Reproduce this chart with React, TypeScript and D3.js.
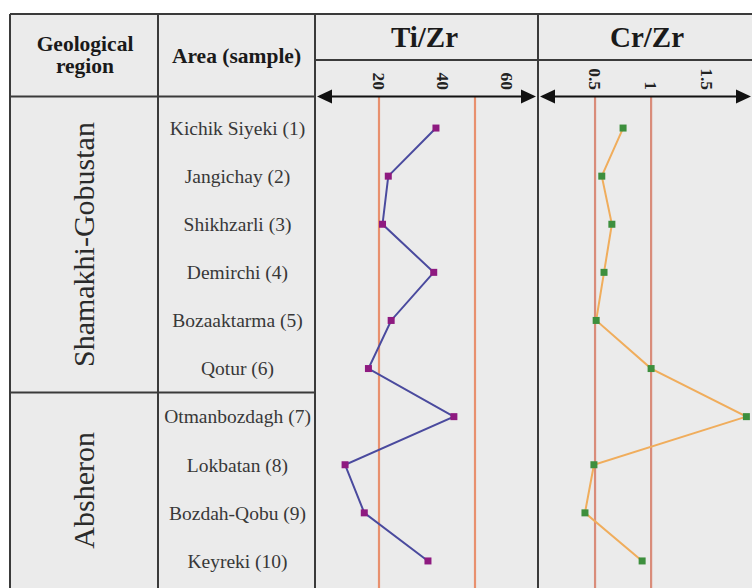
import * as d3 from 'd3'

// Rows of the table
const regions = ['Shamakhi-Gobustan', 'Absheron']
const regionCounts = [6, 4]
const samples = [
  'Kichik Siyeki (1)',
  'Jangichay (2)',
  'Shikhzarli (3)',
  'Demirchi (4)',
  'Bozaaktarma (5)',
  'Qotur (6)',
  'Otmanbozdagh (7)',
  'Lokbatan (8)',
  'Bozdah-Qobu (9)',
  'Keyreki (10)',
]

// Ratios
const tiZr = [37.8, 22.9, 21.1, 37.1, 23.8, 16.7, 43.4, 9.4, 15.4, 35.3]
const crZr = [0.75, 0.56, 0.65, 0.58, 0.51, 1.0, 1.85, 0.49, 0.41, 0.92]

const tiTicks = [20, 40, 60]
const tiRefs = [20, 50]
const crTicks = [0.5, 1, 1.5]
const crRefs = [0.5, 1]

const W = 752
const H = 588
const left = 10
const top = 14
const col1 = 158
const col2 = 315
const col3 = 538
const subY = 60
const axisY = 96.5
const bodyTop = 104
const bodyBottom = 585

const serif = '"Liberation Serif", "Times New Roman", serif'
const bg = '#ebebeb'
const border = '#3a3a3a'

function Arrow({ x, dir }: { x: number; dir: 1 | -1 }) {
  // dir = -1 points left, 1 points right; x is the tip
  const p = `${x},${axisY} ${x - dir * 15},${axisY - 7} ${x - dir * 15},${axisY + 7}`
  return <polygon points={p} fill="#111" />
}

function Panel({
  values,
  ticks,
  refs,
  x,
  lineColor,
  markColor,
  refColor,
  tipL,
  tipR,
}: {
  values: number[]
  ticks: number[]
  refs: number[]
  x: d3.ScaleLinear<number, number>
  lineColor: string
  markColor: string
  refColor: string
  tipL: number
  tipR: number
}) {
  const y = d3.scaleBand<string>().domain(samples).range([bodyTop, bodyBottom])
  const cy = (i: number) => (y(samples[i]) ?? 0) + y.bandwidth() / 2
  const line = d3
    .line<number>()
    .x((d) => x(d))
    .y((_, i) => cy(i))
  return (
    <g>
      {refs.map((r) => (
        <line
          key={r}
          x1={x(r)}
          x2={x(r)}
          y1={axisY}
          y2={H}
          stroke={refColor}
          strokeWidth={2.2}
        />
      ))}
      <path d={line(values) ?? ''} fill="none" stroke={lineColor} strokeWidth={2} />
      {values.map((v, i) => (
        <rect
          key={i}
          x={x(v) - 3.5}
          y={cy(i) - 3.5}
          width={7}
          height={7}
          fill={markColor}
        />
      ))}
      <line x1={tipL + 4} x2={tipR - 4} y1={axisY} y2={axisY} stroke="#111" strokeWidth={2} />
      <Arrow x={tipL} dir={-1} />
      <Arrow x={tipR} dir={1} />
      {ticks.map((t) => (
        <text
          key={t}
          transform={`translate(${x(t)},90) rotate(90)`}
          textAnchor="end"
          dy="0.35em"
          fontFamily={serif}
          fontWeight="bold"
          fontSize={17.5}
          fill="#222"
        >
          {String(t)}
        </text>
      ))}
    </g>
  )
}

export default function App() {
  const xTi = d3.scaleLinear().domain([0, 68.75]).range([col2, col3 - 3])
  const xCr = d3.scaleLinear().domain([0, 1.9]).range([col3 + 1, W])

  const y = d3.scaleBand<string>().domain(samples).range([bodyTop, bodyBottom])

  // region blocks
  let start = 0
  const blocks = regions.map((name, k) => {
    const s = start
    start += regionCounts[k]
    const y0 = k === 0 ? axisY : (y(samples[s]) ?? 0)
    const last = samples[s + regionCounts[k] - 1]
    const y1 = k === regions.length - 1 ? H : (y(last) ?? 0) + y.bandwidth()
    return { name, y0, y1 }
  })

  return (
    <div style={{ position: 'fixed', left: 0, top: 0 }}>
      <svg width={W} height={H} style={{ display: 'block', background: '#fff' }}>
        <rect x={left} y={top} width={W - left} height={H - top} fill={bg} />

        {/* header text */}
        <g fontFamily={serif} fontWeight="bold" fill="#1a1a1a" textAnchor="middle">
          <text x={(left + col1) / 2 + 1} y={51} fontSize={21.5}>
            Geological
          </text>
          <text x={(left + col1) / 2 + 1} y={73} fontSize={21.5}>
            region
          </text>
          <text x={(col1 + col2) / 2} y={63} fontSize={21.5}>
            Area (sample)
          </text>
          <text x={(col2 + col3) / 2 - 2} y={47} fontSize={29}>
            Ti/Zr
          </text>
          <text x={(col3 + W) / 2 + 2} y={47} fontSize={29}>
            Cr/Zr
          </text>
        </g>

        {/* sample names */}
        <g fontFamily={serif} fontSize={19.5} fill="#383838" textAnchor="middle">
          {samples.map((s) => (
            <text key={s} x={(col1 + col2) / 2 + 1} y={(y(s) ?? 0) + y.bandwidth() / 2} dy="0.35em">
              {s}
            </text>
          ))}
        </g>

        {/* region names */}
        {blocks.map((b) => (
          <text
            key={b.name}
            transform={`translate(${(left + col1) / 2 - 1},${(b.y0 + b.y1) / 2}) rotate(-90)`}
            textAnchor="middle"
            dy="0.35em"
            fontFamily={serif}
            fontSize={30}
            fill="#2a2a2a"
          >
            {b.name}
          </text>
        ))}

        <Panel
          values={tiZr}
          ticks={tiTicks}
          refs={tiRefs}
          x={xTi}
          lineColor="#4a4a9e"
          markColor="#8e1a80"
          refColor="#e8906e"
          tipL={col2 + 2}
          tipR={col3 - 2}
        />
        <Panel
          values={crZr}
          ticks={crTicks}
          refs={crRefs}
          x={xCr}
          lineColor="#f0ad5c"
          markColor="#3d8f3d"
          refColor="#d98c7a"
          tipL={col3 + 2}
          tipR={W - 1}
        />

        {/* table rules */}
        <g stroke={border} strokeWidth={2} fill="none">
          <line x1={left} x2={W} y1={top} y2={top} />
          <line x1={left} x2={left} y1={top} y2={H} />
          <line x1={col1} x2={col1} y1={top} y2={H} />
          <line x1={col2} x2={col2} y1={top} y2={H} />
          <line x1={col3} x2={col3} y1={top} y2={H} />
          <line x1={col2} x2={W} y1={subY} y2={subY} />
          <line x1={left} x2={col2} y1={axisY} y2={axisY} />
          {blocks.slice(1).map((b) => (
            <line key={b.name} x1={left} x2={col2} y1={b.y0} y2={b.y0} />
          ))}
        </g>
      </svg>
    </div>
  )
}
